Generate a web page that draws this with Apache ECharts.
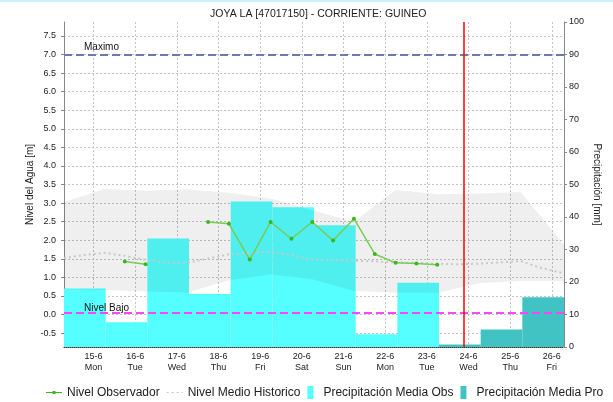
<!DOCTYPE html>
<html>
<head>
<meta charset="utf-8">
<title>JOYA LA [47017150]</title>
<script src="https://cdn.jsdelivr.net/npm/echarts@6/dist/echarts.min.js"></script>
<style>
    html, body { margin: 0; padding: 0; background: #fff; }
    #container_nivel { width: 613px; height: 402px; }
</style>
</head>
<body>
<div id="container_nivel"></div>
<script>
// =================================================================================
// Data (level in m, precipitation in mm)
var axisStart = '2020-06-14 07:00',
    axisEnd = '2020-06-26 07:00',
    nowTime = '2020-06-23 21:00';

var dayTicks = [0, 1, 2, 3, 4, 5, 6, 7, 8, 9, 10, 11];
var levelTicks = [-0.5, 0, 0.5, 1, 1.5, 2, 2.5, 3, 3.5, 4, 4.5, 5, 5.5, 6, 6.5, 7, 7.5];
var weekDays = ['Sun', 'Mon', 'Tue', 'Wed', 'Thu', 'Fri', 'Sat'];

var nivelMaximo = 7.0,
    nivelBajo = 0.05;

// Nivel Observador, readings at 06:00 and 18:00 (null = no reading)
var obsTimes = ['2020-06-15 18:00', '2020-06-16 06:00', '2020-06-16 18:00', '2020-06-17 06:00',
    '2020-06-17 18:00', '2020-06-18 06:00', '2020-06-18 18:00', '2020-06-19 06:00',
    '2020-06-19 18:00', '2020-06-20 06:00', '2020-06-20 18:00', '2020-06-21 06:00',
    '2020-06-21 18:00', '2020-06-22 06:00', '2020-06-22 18:00', '2020-06-23 06:00'];
var obsLevel = [1.43, 1.35, null, null,
    2.49, 2.44, 1.48, 2.49,
    2.04, 2.49, 1.99, 2.58,
    1.63, 1.39, 1.37, 1.34];

// Nivel Medio Historico
var histTimes = ['2020-06-14 07:00', '2020-06-14 18:00', '2020-06-15 06:00', '2020-06-15 18:00',
    '2020-06-16 06:00', '2020-06-16 18:00', '2020-06-17 06:00', '2020-06-17 18:00',
    '2020-06-18 06:00', '2020-06-18 18:00', '2020-06-19 06:00', '2020-06-19 18:00',
    '2020-06-20 06:00', '2020-06-20 18:00', '2020-06-21 06:00', '2020-06-21 18:00',
    '2020-06-22 06:00', '2020-06-22 18:00', '2020-06-23 06:00', '2020-06-23 18:00',
    '2020-06-24 06:00', '2020-06-24 18:00', '2020-06-25 06:00', '2020-06-25 18:00',
    '2020-06-26 06:00'];
var histLevel = [1.52, 1.60, 1.66, 1.58,
    1.47, 1.40, 1.39, 1.51,
    1.62, 1.66, 1.69, 1.60,
    1.48, 1.47, 1.45, 1.43,
    1.40, 1.39, 1.37, 1.35,
    1.37, 1.40, 1.44, 1.25,
    1.12];

// historic min / max band
var bandTimes = ['2020-06-14 07:00', '2020-06-15 06:00', '2020-06-16 06:00', '2020-06-17 06:00',
    '2020-06-18 06:00', '2020-06-19 06:00', '2020-06-20 06:00', '2020-06-21 06:00',
    '2020-06-22 06:00', '2020-06-23 06:00', '2020-06-24 06:00', '2020-06-25 06:00',
    '2020-06-26 07:00'];
var bandLow = [0.68, 0.66, 0.62, 0.59, 0.92, 1.08, 0.95, 0.63, 0.59, 0.58, 0.84, 0.90, 0.90];
var bandHigh = [3.03, 3.38, 3.34, 3.37, 3.28, 3.12, 2.81, 2.50, 3.36, 3.24, 3.26, 3.30, 1.88];

// daily precipitation, 07:00 to 07:00
var obsPrecipStart = ['2020-06-14 07:00', '2020-06-15 07:00', '2020-06-16 07:00', '2020-06-17 07:00',
    '2020-06-18 07:00', '2020-06-19 07:00', '2020-06-20 07:00', '2020-06-21 07:00',
    '2020-06-22 07:00'];
var obsPrecip = [18.0, 7.6, 33.4, 16.3, 44.8, 43.0, 37.5, 3.9, 19.8];
var proPrecipStart = ['2020-06-23 07:00', '2020-06-24 07:00', '2020-06-25 07:00'];
var proPrecip = [0.8, 5.4, 15.3];

// =================================================================================
// helpers: the x axis counts days from 15-6 00:00
var baseDate = new Date('2020-06-15T00:00');

function toDay(s) {
    return (new Date(s.replace(' ', 'T')) - baseDate) / 86400000;
}

function pairs(times, values) {
    var res = [];
    for (var i = 0; i < times.length; i++) {
        res.push([toDay(times[i]), values[i] == null ? '-' : values[i]]);
    }
    return res;
}

function precipRows(starts, values) {
    var res = [];
    for (var i = 0; i < starts.length; i++) {
        var t = toDay(starts[i]);
        res.push([t, t + 1, values[i]]);
    }
    return res;
}

function renderPrecip(params, api) {
    var p0 = api.coord([api.value(0), api.value(2)]);
    var p1 = api.coord([api.value(1), 0]);
    return {
        type: 'rect',
        shape: { x: p0[0], y: p0[1], width: p1[0] - p0[0], height: p1[1] - p0[1] },
        style: { fill: api.visual('color') }
    };
}

var bandRows = [];
for (var i = 0; i < bandTimes.length; i++) {
    bandRows.push([toDay(bandTimes[i]), bandLow[i], bandHigh[i]]);
}

// whole band drawn as one polygon: upper edge, then lower edge backwards
function renderBand(params, api) {
    if (params.dataIndex !== 0) {
        return;
    }
    var pts = [], i;
    for (i = 0; i < bandRows.length; i++) {
        pts.push(api.coord([bandRows[i][0], bandRows[i][2]]));
    }
    for (i = bandRows.length - 1; i >= 0; i--) {
        pts.push(api.coord([bandRows[i][0], bandRows[i][1]]));
    }
    return {
        type: 'polygon',
        shape: { points: pts },
        style: { fill: 'rgba(0,0,0,0.062)' }
    };
}

var fontName = 'Liberation Sans';
var gridLine = { show: true, lineStyle: { color: '#c4c4c4', type: [2, 2], width: 1 } };

var nivel_charts = echarts.init(document.getElementById('container_nivel'));

var option_nivel = {
    animation: false,
    textStyle: { fontFamily: fontName },
    title: {
        text: 'JOYA LA [47017150] - CORRIENTE: GUINEO',
        left: 205,
        top: 4,
        textStyle: { fontSize: 10.5, fontWeight: 'normal', color: '#222', fontFamily: fontName }
    },
    graphic: [{
        type: 'rect',
        shape: { x: 0, y: 0, width: 613, height: 2 },
        style: { fill: '#c8f2fa' }
    }],
    legend: {
        top: 381,
        left: 41,
        itemWidth: 16,
        itemHeight: 13,
        itemGap: 7,
        textStyle: { fontSize: 12, color: '#222', fontFamily: fontName },
        data: [
            { name: 'Nivel Observador', icon: 'path://M0,6H16V7H0Z M6.5,5H9.5V8H6.5Z' },
            { name: 'Nivel Medio Historico', icon: 'path://M0,6H2V7H0Z M5,6H7V7H5Z M10,6H12V7H10Z M15,6H16V7H15Z M0,0H0.01V0.01H0Z M0,13H0.01V12.99H0Z' },
            { name: 'Precipitación Media Obs', icon: 'path://M0,0H6V13H0Z' },
            { name: 'Precipitación Media Pro', icon: 'path://M0,0H6V13H0Z' }
        ]
    },
    grid: { left: 64, right: 49, top: 22, bottom: 55 },
    xAxis: {
        type: 'value',
        min: toDay(axisStart),
        max: toDay(axisEnd),
        axisLine: { show: true, onZero: false, lineStyle: { color: '#333', type: [1, 1] } },
        axisTick: { show: false, customValues: dayTicks },
        splitLine: gridLine,
        axisLabel: {
            customValues: dayTicks,
            fontSize: 9,
            color: '#222',
            lineHeight: 11,
            margin: 4,
            formatter: function (v) {
                var d = new Date(baseDate.getTime() + Math.round(v) * 86400000);
                return d.getDate() + '-' + (d.getMonth() + 1) + '\n' + weekDays[d.getDay()];
            }
        }
    },
    yAxis: [
        {
            type: 'value',
            name: 'Nivel del Agua [m]',
            nameLocation: 'middle',
            nameGap: 29,
            nameMoveOverlap: false,
            nameTextStyle: { fontSize: 10, color: '#222' },
            min: -0.875,
            max: 7.875,
            axisLine: { show: true, onZero: false, lineStyle: { color: '#888' } },
            axisTick: { show: true, length: 3, customValues: levelTicks, lineStyle: { color: '#888' } },
            splitLine: gridLine,
            axisLabel: {
                customValues: levelTicks,
                fontSize: 9,
                color: '#222',
                margin: 8,
                formatter: function (v) { return v.toFixed(1); }
            }
        },
        {
            type: 'value',
            name: 'Precipitación [mm]',
            nameLocation: 'middle',
            nameRotate: -90,
            nameGap: 28,
            nameMoveOverlap: false,
            nameTextStyle: { fontSize: 10, color: '#222' },
            min: 0,
            max: 100,
            interval: 10,
            axisLine: { show: true, onZero: false, lineStyle: { color: '#888' } },
            axisTick: { show: true, length: 3, lineStyle: { color: '#888' } },
            splitLine: { show: false },
            axisLabel: { fontSize: 9, color: '#222', margin: 5 }
        }
    ],
    series: [
        {
            name: 'Precipitación Media Obs',
            type: 'custom',
            yAxisIndex: 1,
            silent: true,
            itemStyle: { color: '#55ffff' },
            encode: { x: [0, 1], y: 2 },
            renderItem: renderPrecip,
            data: precipRows(obsPrecipStart, obsPrecip)
        },
        {
            name: 'Precipitación Media Pro',
            type: 'custom',
            yAxisIndex: 1,
            silent: true,
            itemStyle: { color: '#42c3c3' },
            encode: { x: [0, 1], y: 2 },
            renderItem: renderPrecip,
            data: precipRows(proPrecipStart, proPrecip)
        },
        {
            name: 'band',
            type: 'custom',
            silent: true,
            encode: { x: 0, y: [1, 2] },
            renderItem: renderBand,
            data: bandRows
        },
        {
            name: 'Nivel Medio Historico',
            type: 'line',
            silent: true,
            symbol: 'none',
            itemStyle: { color: '#c8c8c8' },
            lineStyle: { color: '#c8c8c8', width: 2, type: [2, 3] },
            data: pairs(histTimes, histLevel)
        },
        {
            name: 'Nivel Observador',
            type: 'line',
            silent: true,
            symbol: 'circle',
            symbolSize: 4,
            connectNulls: false,
            itemStyle: { color: '#3cb521' },
            lineStyle: { color: '#77cc55', width: 1.5 },
            data: pairs(obsTimes, obsLevel),
            markLine: {
                silent: true,
                symbol: 'none',
                data: [
                    {
                        yAxis: nivelMaximo,
                        lineStyle: { color: '#6b7bb0', type: [8, 4], width: 2 },
                        label: {
                            show: true, position: 'insideStartTop', formatter: 'Maximo',
                            color: '#111', fontSize: 10, distance: [20, 2]
                        }
                    },
                    {
                        yAxis: nivelBajo,
                        lineStyle: { color: '#ff44ff', type: [8, 4], width: 2 },
                        label: {
                            show: true, position: 'insideStartTop', formatter: 'Nivel Bajo',
                            color: '#111', fontSize: 10, distance: [20, -1]
                        }
                    },
                    {
                        xAxis: toDay(nowTime),
                        lineStyle: { color: '#ff0000', type: 'solid', width: 1.5 },
                        label: { show: false }
                    }
                ]
            }
        }
    ]
};

nivel_charts.setOption(option_nivel);
</script>
</body>
</html>
